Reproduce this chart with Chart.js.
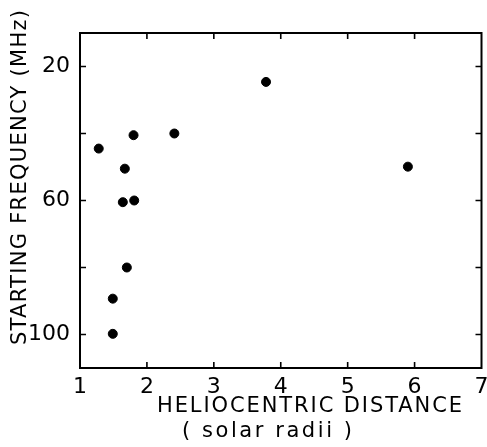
<!DOCTYPE html>
<html>
<head>
<meta charset="utf-8">
<script src="https://cdn.jsdelivr.net/npm/chart.js@4"></script>
<style>
html,body{margin:0;padding:0;background:#fff;}
canvas{display:block;}
</style>
</head>
<body>
<canvas id="c" width="487" height="447"></canvas>
<script>
// Data
const distance = [1.28, 1.80, 2.41, 1.67, 1.64, 1.81, 1.70, 1.49, 1.49, 3.78, 5.90];
const frequency = [44.5, 40.5, 40.0, 50.5, 60.5, 60.0, 80.0, 89.3, 99.8, 24.6, 49.9];
const xTicks = [1, 2, 3, 4, 5, 6, 7];
const yTicks = [20, 40, 60, 80, 100];
const yLabelled = [20, 60, 100];
const xTitle = "HELIOCENTRIC DISTANCE";
const xSubtitle = "( solar radii )";
const yTitle = "STARTING FREQUENCY (MHz)";

const points = distance.map((d, i) => ({x: d, y: frequency[i]}));
const FONT = "DejaVu Sans";

function drawSpaced(ctx, text, cx, cy, targetWidth) {
  ctx.letterSpacing = '0px';
  const w = ctx.measureText(text).width;
  const n = text.length;
  let sp = (targetWidth - w) / (n - 1);
  ctx.letterSpacing = sp + 'px';
  const w2 = ctx.measureText(text).width;
  ctx.textAlign = 'left';
  ctx.textBaseline = 'middle';
  ctx.fillText(text, cx - (w2 - sp) / 2, cy);
  ctx.letterSpacing = '0px';
}

const framePlugin = {
  id: 'frame',
  afterDraw(chart) {
    const ctx = chart.ctx;
    const a = chart.chartArea;
    const xs = chart.scales.x, ys = chart.scales.y;
    ctx.save();
    ctx.strokeStyle = '#000';
    ctx.lineWidth = 2;
    ctx.strokeRect(a.left, a.top, a.right - a.left, a.bottom - a.top);
    ctx.lineWidth = 1.6;
    const L = 6;
    ctx.beginPath();
    xTicks.forEach(v => {
      if (v === xs.min || v === xs.max) return;
      const px = xs.getPixelForValue(v);
      ctx.moveTo(px, a.bottom); ctx.lineTo(px, a.bottom - L);
      ctx.moveTo(px, a.top); ctx.lineTo(px, a.top + L);
    });
    yTicks.forEach(v => {
      const py = ys.getPixelForValue(v);
      ctx.moveTo(a.left, py); ctx.lineTo(a.left + L, py);
      ctx.moveTo(a.right, py); ctx.lineTo(a.right - L, py);
    });
    ctx.stroke();
    // titles
    ctx.fillStyle = '#000';
    ctx.font = '21px "' + FONT + '"';
    drawSpaced(ctx, xTitle, 309.5, 407, 305);
    drawSpaced(ctx, xSubtitle, 267, 432, 170);
    ctx.translate(21, 177.5);
    ctx.rotate(-Math.PI / 2);
    drawSpaced(ctx, yTitle, 0, 0, 335);
    ctx.restore();
  }
};

new Chart(document.getElementById('c'), {
  type: 'scatter',
  data: {
    datasets: [{
      data: points,
      backgroundColor: '#000',
      borderColor: '#000',
      pointRadius: 4.5,
      pointHoverRadius: 4.5
    }]
  },
  options: {
    responsive: false,
    animation: false,
    devicePixelRatio: 1,
    layout: {padding: {top: 33, right: 4, left: 0, bottom: 0}},
    plugins: {legend: {display: false}, tooltip: {enabled: false}},
    scales: {
      x: {
        type: 'linear',
        min: 1, max: 7,
        afterBuildTicks(s) { s.ticks = xTicks.map(v => ({value: v})); },
        ticks: {
          color: '#000',
          font: {family: FONT, size: 22},
          padding: -2,
          maxRotation: 0,
          autoSkip: false,
          callback: v => String(v)
        },
        grid: {display: false},
        border: {display: false},
        afterFit(s) { s.height = 79; s.paddingLeft = 0; s.paddingRight = 0; }
      },
      y: {
        type: 'linear',
        reverse: true,
        min: 10, max: 110,
        afterBuildTicks(s) { s.ticks = yTicks.map(v => ({value: v})); },
        ticks: {
          color: '#000',
          font: {family: FONT, size: 22},
          padding: 2,
          autoSkip: false,
          callback: v => yLabelled.includes(v) ? String(v) : ''
        },
        grid: {display: false},
        border: {display: false},
        afterFit(s) { s.width = 80; s.paddingTop = 0; s.paddingBottom = 0; }
      }
    }
  },
  plugins: [framePlugin]
});
</script>
</body>
</html>
